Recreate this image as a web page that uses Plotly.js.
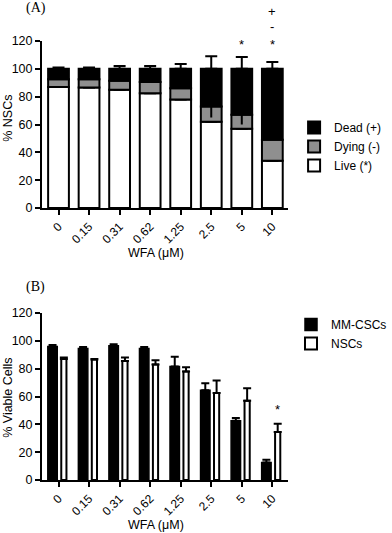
<!DOCTYPE html>
<html>
<head>
<meta charset="utf-8">
<script src="https://cdn.plot.ly/plotly-3.0.1.min.js"></script>
<style>
  body { margin: 0; background: #fff; }
  #plot { width: 392px; height: 533px; }
</style>
</head>
<body>
<div id="plot"></div>
<script>
// WFA concentrations (uM)
let doses = ["0", "0.15", "0.31", "0.62", "1.25", "2.5", "5", "10"];

// panel A: % NSCs, stacked live / dying / dead
let live = [87, 86.5, 85, 82.5, 78, 62, 57, 34];
let liveErr = [0.5, 0.5, 2, 2.5, 3, 0, 0, 7];
let dying = [5.5, 6, 6.5, 8, 8, 11, 10, 15];
let dyingErrDown = [0, 0, 0, 0, 0, 8, 7, 0];
let dead = [7.5, 7.5, 8.5, 9.5, 14, 27, 33, 51];
let deadErr = [1, 1, 2, 2, 3.5, 9, 8.5, 5];

// panel B: % viable cells
let mmCSCs = [96, 94.5, 96.5, 94.5, 81.5, 64.5, 42.5, 12.5];
let mmErr = [1, 1, 1, 1, 7, 5, 2, 2];
let nscs = [87, 86.5, 85.5, 83, 78, 62.5, 57, 34.5];
let nscErr = [1, 0.5, 2.5, 3, 3, 9, 9, 6];

// stacking bases for panel A
let dyingBase = live.slice();
let deadBase = live.map((v, i) => v + dying[i]);

let font = "Liberation Sans, Arial, sans-serif";

let liveTrace = {
    x: doses, y: live, type: "bar", name: "Live (*)",
    xaxis: "x", yaxis: "y", legend: "legend", legendrank: 3,
    width: 0.68, offset: -0.34,
    marker: {color: "#ffffff", line: {color: "#000", width: 2}},
    error_y: {type: "data", symmetric: false, array: liveErr, arrayminus: live.map(() => 0),
              color: "#000", thickness: 2, width: 6}
};

let dyingTrace = {
    x: doses, y: dying, base: dyingBase, type: "bar", name: "Dying (-)",
    xaxis: "x", yaxis: "y", legend: "legend", legendrank: 2,
    width: 0.68, offset: -0.34,
    marker: {color: "#8f8f8f", line: {color: "#000", width: 2}},
    error_y: {type: "data", symmetric: false, array: dying.map(() => 0), arrayminus: dyingErrDown,
              color: "#000", thickness: 2, width: 0}
};

let deadTrace = {
    x: doses, y: dead, base: deadBase, type: "bar", name: "Dead (+)",
    xaxis: "x", yaxis: "y", legend: "legend", legendrank: 1,
    width: 0.68, offset: -0.34,
    marker: {color: "#000000", line: {color: "#000", width: 2}},
    error_y: {type: "data", symmetric: false, array: deadErr, arrayminus: dead.map(() => 0),
              color: "#000", thickness: 2, width: 6}
};

let mmTrace = {
    x: doses, y: mmCSCs, type: "bar", name: "MM-CSCs",
    xaxis: "x2", yaxis: "y2", legend: "legend2", legendrank: 1,
    width: 0.31, offset: -0.35,
    marker: {color: "#000000", line: {color: "#000", width: 1.5}},
    error_y: {type: "data", symmetric: false, array: mmErr, arrayminus: mmCSCs.map(() => 0),
              color: "#000", thickness: 2, width: 4}
};

let nscTrace = {
    x: doses, y: nscs, type: "bar", name: "NSCs",
    xaxis: "x2", yaxis: "y2", legend: "legend2", legendrank: 2,
    width: 0.17, offset: 0.09,
    marker: {color: "#ffffff", line: {color: "#000", width: 2}},
    error_y: {type: "data", symmetric: false, array: nscErr, arrayminus: nscs.map(() => 0),
              color: "#000", thickness: 2, width: 4}
};

let data = [liveTrace, dyingTrace, deadTrace, mmTrace, nscTrace];

function xAxis(anchor) {
    return {
        anchor: anchor, domain: [43 / 392, 295 / 392],
        type: "category", range: [-0.54, 7.52],
        showline: true, linewidth: 2, linecolor: "#000",
        ticks: "outside", ticklen: 5, tickwidth: 2, tickcolor: "#000",
        tickangle: -45, showgrid: false, zeroline: false,
        tickfont: {family: font, size: 12, color: "#000"}
    };
}

function yAxis(anchor, domain) {
    return {
        anchor: anchor, domain: domain, range: [0, 120],
        tickvals: [0, 20, 40, 60, 80, 100, 120],
        showline: true, linewidth: 2, linecolor: "#000",
        ticks: "outside", ticklen: 5, tickwidth: 2, tickcolor: "#000",
        showgrid: false, zeroline: false,
        tickfont: {family: font, size: 12.5, color: "#000"}
    };
}

let py = px => (533 - px) / 533;

let layout = {
    width: 392, height: 533,
    margin: {l: 0, r: 0, t: 0, b: 0},
    paper_bgcolor: "#fff", plot_bgcolor: "#fff",
    barmode: "overlay",
    showlegend: true,
    xaxis: xAxis("y"),
    yaxis: yAxis("x", [py(208), py(41)]),
    xaxis2: xAxis("y2"),
    yaxis2: yAxis("x2", [py(480), py(313)]),
    legend: {x: 301 / 392, y: py(113), xanchor: "left", yanchor: "top",
             traceorder: "normal", font: {family: font, size: 12, color: "#000"},
             bgcolor: "rgba(0,0,0,0)"},
    legend2: {x: 298 / 392, y: py(310), xanchor: "left", yanchor: "top",
              traceorder: "normal", font: {family: font, size: 12, color: "#000"},
              bgcolor: "rgba(0,0,0,0)"},
    annotations: [
        {text: "(A)", xref: "paper", yref: "paper", x: 25 / 392, y: py(8), xanchor: "left", yanchor: "middle",
         showarrow: false, font: {family: "Liberation Serif, Times New Roman, serif", size: 14, color: "#000"}},
        {text: "(B)", xref: "paper", yref: "paper", x: 25 / 392, y: py(287), xanchor: "left", yanchor: "middle",
         showarrow: false, font: {family: "Liberation Serif, Times New Roman, serif", size: 14, color: "#000"}},
        {text: "% NSCs", xref: "paper", yref: "paper", x: 8 / 392, y: py(118), textangle: -90,
         xanchor: "center", yanchor: "middle", showarrow: false, font: {family: font, size: 12.5, color: "#000"}},
        {text: "% Viable Cells", xref: "paper", yref: "paper", x: 8 / 392, y: py(398), textangle: -90,
         xanchor: "center", yanchor: "middle", showarrow: false, font: {family: font, size: 12.5, color: "#000"}},
        {text: "WFA (\u03bcM)", xref: "paper", yref: "paper", x: 160 / 392, y: py(253),
         xanchor: "center", yanchor: "middle", showarrow: false, font: {family: font, size: 12.5, color: "#000"}},
        {text: "WFA (\u03bcM)", xref: "paper", yref: "paper", x: 160 / 392, y: py(525),
         xanchor: "center", yanchor: "middle", showarrow: false, font: {family: font, size: 12.5, color: "#000"}},
        {text: "*", xref: "x", yref: "paper", x: 6, y: py(44), xanchor: "center", yanchor: "middle",
         showarrow: false, font: {family: font, size: 13, color: "#000"}},
        {text: "*", xref: "x", yref: "paper", x: 7, y: py(44), xanchor: "center", yanchor: "middle",
         showarrow: false, font: {family: font, size: 13, color: "#000"}},
        {text: "-", xref: "x", yref: "paper", x: 7, y: py(26), xanchor: "center", yanchor: "middle",
         showarrow: false, font: {family: font, size: 13, color: "#000"}},
        {text: "+", xref: "x", yref: "paper", x: 7, y: py(12), xanchor: "center", yanchor: "middle",
         showarrow: false, font: {family: font, size: 13, color: "#000"}},
        {text: "*", xref: "x2", yref: "paper", x: 7.17, y: py(409), xanchor: "center", yanchor: "middle",
         showarrow: false, font: {family: font, size: 13, color: "#000"}}
    ]
};

Plotly.newPlot("plot", data, layout, {displayModeBar: false, staticPlot: true});
</script>
</body>
</html>
